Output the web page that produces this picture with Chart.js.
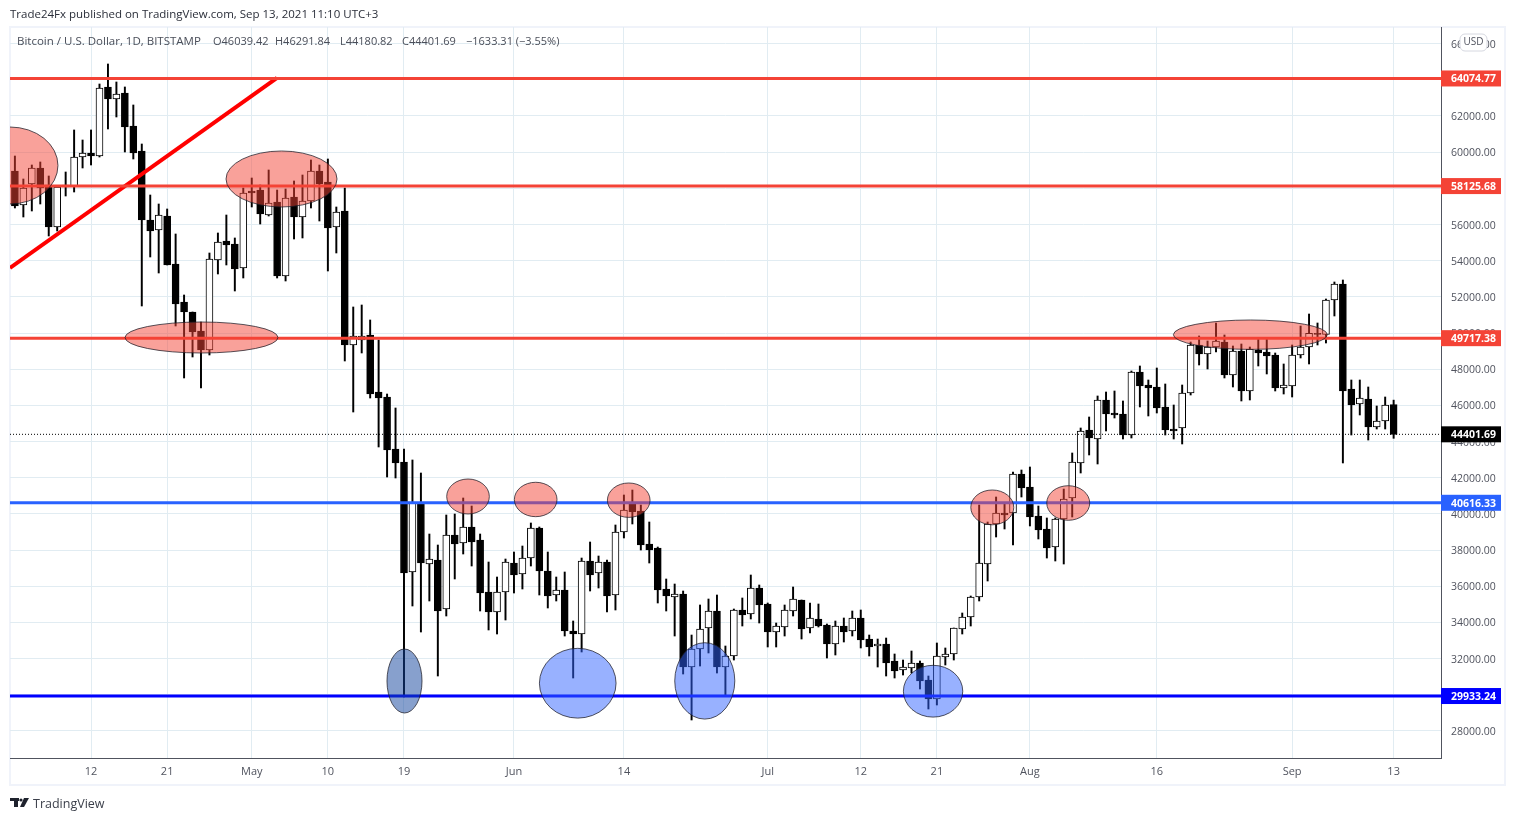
<!DOCTYPE html>
<html>
<head>
<meta charset="utf-8">
<title>BTCUSD</title>
<script src="https://cdn.jsdelivr.net/npm/chart.js@4"></script>
<style>
  html, body { margin: 0; padding: 0; background: #fff; }
  canvas { display: block; }
</style>
</head>
<body>
<canvas id="chart" width="1515" height="821"></canvas>
<script>
// day index 0 = Apr 3 2021
const opens = [58959,57080,58241,59125,58185,55863,58075,58130,59733,59954,59788,63603,62940,63272,61447,60065,56250,55697,56471,53818,51717,51164,50113,49063,54039,55090,54924,53597,57853,57908,56526,57246,53154,57522,56416,57301,58959,58351,55863,56748,49340,49616,49893,46741,46465,43590,42872,36790,40549,37232,37453,34744,38835,38393,39278,38559,35684,34578,35684,37287,36679,37563,39222,36845,35518,35795,33528,33362,37398,36734,37342,35518,39002,40549,40162,38337,38116,35850,35408,35574,31537,32533,33693,34634,31537,32146,34689,34468,35905,35021,33472,33749,34634,35242,33693,34191,33859,32810,33804,33528,34247,33085,32699,32810,31869,31371,31482,31758,30819,29769,32091,32257,33638,34302,35408,37232,39444,40052,40052,42208,41488,39886,39167,38171,39720,40881,42817,44641,44143,46299,45580,45525,44364,47847,47128,47018,45913,44696,44751,46686,49340,48842,49229,49505,47682,49008,46797,49063,48953,48787,46963,47073,48787,49229,49985,49929,51828,52712,46907,46078,46354,44807,45138,46039.42];
const highs = [59788,58517,59291,59457,58683,58075,58904,61227,60673,61227,63769,64875,63880,63604,62609,60452,57632,57135,56859,55477,52104,51164,50611,54426,55532,56526,55256,58019,58572,58185,59015,57908,57964,58407,58738,59567,59291,59623,56969,58019,51441,51551,50722,49616,46630,45857,43590,42983,42263,38890,38282,39941,39996,40881,40438,38890,37342,36513,37508,37895,38227,39499,39278,37895,36513,36790,34081,37563,38448,37674,37453,39389,41047,41322,40494,39554,38171,36403,36126,35739,33306,34966,35297,35518,32699,34744,35353,36624,36071,35076,33970,34966,35960,35242,35076,35021,33915,34081,34247,34634,34689,33306,33085,33140,32257,31924,32422,31869,31040,32865,32589,33693,34523,35463,40494,39554,40936,40604,42318,42429,42595,40438,39776,39776,41377,43369,44751,45359,46521,46741,46797,46244,47902,48179,47405,48068,47184,46023,47128,49505,49838,49561,50556,49893,49284,49395,49229,49671,49671,48898,48290,49340,50390,51053,50556,51883,52823,52933,47405,47405,47018,45968,46465,46291.84];
const lows = [56914,56416,56748,57135,55366,55642,57577,57798,59125,59291,59733,61282,61945,60010,59623,51496,54205,53320,53763,50391,47516,48676,46963,48787,53265,53763,52325,53044,56969,56029,56471,53044,52878,55200,55256,56914,56195,53431,54426,48455,45635,48898,46409,43701,42042,41987,29880,34910,33472,35187,31040,34357,36403,37785,37121,34634,33584,33362,34136,35629,35850,37121,35518,34800,35187,33251,30929,32367,35739,35905,34578,34689,38670,39444,38006,37287,35076,34634,33251,31150,28608,31592,32312,31205,29935,31924,33804,34191,33970,32644,32644,33251,34357,33085,33417,33749,32035,32201,32920,33251,32589,32146,31537,31040,30929,31095,31205,30322,29216,29437,31647,31924,33362,33804,35187,36292,38725,39167,38282,40936,39334,38615,37563,37398,37232,39831,42263,43259,42761,44586,45304,44143,44198,45913,45415,45580,44364,44143,43867,46575,48234,48013,48953,47516,47018,46244,46299,48179,47737,46797,46630,46465,48621,48290,49340,49450,50943,42817,44364,45470,44086,44696,44696,44180.82];
const closes = [57025,58019,59125,58019,55863,58075,58185,59733,59954,59788,63548,62940,63216,61392,59954,56250,55642,56526,53763,51607,51164,50058,49063,54094,55035,54868,53541,57743,57743,56582,57190,53154,57467,56416,57301,58959,58241,55808,56693,49340,49838,49838,46630,46409,43535,42817,36734,40604,37287,37508,34634,38835,38337,39278,38448,35629,34578,35684,37342,36624,37563,39222,36845,35463,35795,33528,33362,37398,36624,37342,35463,39002,40217,40107,38282,38006,35795,35463,35574,31537,32533,33638,34634,31537,32146,34689,34412,35905,34966,33472,33804,34689,35297,33638,34247,33804,32810,33804,33472,34247,33030,32644,32810,31758,31316,31537,31758,30764,29769,32146,32257,33693,34302,35408,37287,39444,40052,39941,42208,41433,39831,39112,38116,39720,40826,42872,44585,44198,46299,45525,45470,44364,47847,47073,46963,45857,44641,44585,46686,49340,48842,49229,49561,47682,49008,46797,49118,48898,48732,46963,47128,48787,49229,49985,49929,51828,52712,46797,46023,46409,44807,45138,46023,44401.69];

const xTickDays = [9, 18, 28, 37, 46, 59, 72, 89, 100, 109, 120, 135, 151, 163];
const xTickLabels = ["12", "21", "May", "10", "19", "Jun", "14", "Jul", "12", "21", "Aug", "16", "Sep", "13"];
const yTickValues = [28000,30000,32000,34000,36000,38000,40000,42000,44000,46000,48000,50000,52000,54000,56000,58000,60000,62000,64000,66000];

const redLevels = [64074.77, 58125.68, 49717.38];
const midBlueLevel = 40616.33;
const deepBlueLevel = 29933.24;
const lastPrice = 44401.69;

const trendDays = [-0.58, 30.99];
const trendPrices = [53597, 64101];

// circled areas, in day / price units
const zoneDays = [-0.58, 22.06, 31.52, 46.06, 53.57, 61.57, 72.57, 66.54, 81.56, 108.55, 115.55, 124.53, 146.06];
const zonePrices = [59263, 49754, 58517, 30764, 40964, 40799, 40760, 30642, 30770, 30200, 40362, 40604, 49909];
const zoneDayRadii = [5.67, 9.04, 6.56, 2.07, 2.52, 2.52, 2.52, 4.53, 3.55, 3.51, 2.54, 2.54, 9.10];
const zonePriceRadii = [2128, 857, 1548, 1769, 967, 951, 951, 1929, 2112, 1432, 962, 956, 813];
const zoneKinds = ["red", "red", "red", "navy", "red", "red", "red", "blue", "blue", "blue", "red", "red", "red"];

const zoneFill = { red: "rgba(244,67,54,0.5)", blue: "rgba(50,100,255,0.5)", navy: "rgba(15,65,155,0.5)" };

const X_MIN = -0.58, X_MAX = 168.6;
const Y_MIN = 26507, Y_MAX = 66920;
const FONT = '"Open Sans", sans-serif';

const days = opens.map((_, i) => i);
const isUp = days.map(i => closes[i] >= opens[i]);

function level(value) {
  return [{ x: X_MIN, y: value }, { x: X_MAX, y: value }];
}

function lineSet(data, color, width, dash) {
  return {
    type: "line", data, borderColor: color, borderWidth: width, borderDash: dash || [],
    pointRadius: 0, order: 1, fill: false
  };
}

const overlayPlugin = {
  id: "overlay",
  beforeDraw(chart) {
    const c = chart.ctx;
    c.save();
    c.fillStyle = "#fff";
    c.fillRect(0, 0, 1515, 821);
    c.strokeStyle = "#f0f3fa";
    c.lineWidth = 2;
    c.strokeRect(10, 27, 1495, 758);
    c.restore();
  },
  afterDatasetsDraw(chart) {
    const c = chart.ctx, x = chart.scales.x, y = chart.scales.y, a = chart.chartArea;
    c.save();
    c.beginPath();
    c.rect(a.left, a.top, a.width, a.height);
    c.clip();
    zoneDays.forEach((d, i) => {
      c.beginPath();
      c.ellipse(
        x.getPixelForValue(d), y.getPixelForValue(zonePrices[i]),
        Math.abs(x.getPixelForValue(d + zoneDayRadii[i]) - x.getPixelForValue(d)),
        Math.abs(y.getPixelForValue(zonePrices[i] + zonePriceRadii[i]) - y.getPixelForValue(zonePrices[i])),
        0, 0, Math.PI * 2
      );
      c.fillStyle = zoneFill[zoneKinds[i]];
      c.fill();
      c.strokeStyle = "rgba(30,30,40,0.75)";
      c.lineWidth = 1;
      c.stroke();
    });
    c.restore();
  },
  afterDraw(chart) {
    const c = chart.ctx, y = chart.scales.y;
    c.save();
    c.textBaseline = "middle";

    // price tags on the axis
    const tag = (value, bg) => {
      const py = y.getPixelForValue(value);
      c.fillStyle = bg;
      c.fillRect(1441, py - 8, 60, 16);
      c.fillStyle = "#fff";
      c.font = "bold 10.5px " + FONT;
      c.textAlign = "left";
      c.fillText(value.toFixed(2), 1451, py + 1);
    };
    redLevels.forEach(v => tag(v, "#f44336"));
    tag(midBlueLevel, "#2962ff");
    tag(deepBlueLevel, "#0000ff");
    tag(lastPrice, "#000");

    // USD button
    c.beginPath();
    c.roundRect(1460, 34, 27, 17, 5);
    c.fillStyle = "#fff";
    c.fill();
    c.strokeStyle = "#d6d8e0";
    c.lineWidth = 1;
    c.stroke();
    c.fillStyle = "#50535e";
    c.font = "10px " + FONT;
    c.textAlign = "center";
    c.fillText("USD", 1473.5, 42.5);

    // header and legend text
    c.textAlign = "left";
    c.fillStyle = "#2a2e39";
    c.font = "11.5px " + FONT;
    c.fillText("Trade24Fx published on TradingView.com, Sep 13, 2021 11:10 UTC+3", 10, 15);
    c.fillStyle = "#4a4e59";
    c.fillText("Bitcoin / U.S. Dollar, 1D, BITSTAMP", 17, 42);
    c.font = "11px " + FONT;
    c.fillText("O46039.42", 213, 42);
    c.fillText("H46291.84", 275, 42);
    c.fillText("L44180.82", 340, 42);
    c.fillText("C44401.69", 402, 42);
    c.fillText("\u22121633.31 (\u22123.55%)", 466, 42);

    // TradingView mark
    c.fillStyle = "#1e222d";
    c.fillRect(10, 798, 9, 3);
    c.fillRect(14, 798, 4, 9);
    c.beginPath();
    c.arc(21, 800, 1.6, 0, Math.PI * 2);
    c.fill();
    c.beginPath();
    c.moveTo(24, 798);
    c.lineTo(29, 798);
    c.lineTo(24, 807);
    c.lineTo(20, 807);
    c.fill();
    c.fillStyle = "#3c404b";
    c.font = "12.5px " + FONT;
    c.fillText("TradingView", 33, 804);
    c.restore();
  }
};

new Chart(document.getElementById("chart").getContext("2d"), {
  type: "bar",
  data: {
    datasets: [
      {
        data: days.map(i => ({ x: i, y: [lows[i], highs[i]] })),
        backgroundColor: "#000", borderWidth: 0, barThickness: 1.3, grouped: false, order: 3
      },
      {
        data: days.map(i => ({ x: i, y: [opens[i], closes[i]] })),
        backgroundColor: days.map(i => isUp[i] ? "#fff" : "#000"),
        borderColor: "#000", borderWidth: 1, borderSkipped: false,
        barThickness: 7, grouped: false, order: 2
      },
      lineSet(level(lastPrice), "#000", 1, [1, 2]),
      lineSet(level(redLevels[0]), "#f44336", 3),
      lineSet(level(redLevels[1]), "#f44336", 3),
      lineSet(level(redLevels[2]), "#f44336", 3),
      lineSet(level(midBlueLevel), "#2962ff", 3),
      lineSet(level(deepBlueLevel), "#0000ff", 3),
      lineSet(trendDays.map((d, i) => ({ x: d, y: trendPrices[i] })), "#ff0000", 4)
    ]
  },
  options: {
    responsive: false,
    animation: false,
    events: [],
    layout: { padding: { left: 10, top: 27, right: 10, bottom: 36 } },
    plugins: { legend: { display: false }, tooltip: { enabled: false } },
    scales: {
      x: {
        type: "linear", min: X_MIN, max: X_MAX, offset: false,
        afterBuildTicks(scale) { scale.ticks = xTickDays.map(v => ({ value: v })); },
        afterFit(scale) { scale.height = 27; },
        grid: { color: "#e1ecf2", drawTicks: false, offset: false },
        border: { color: "#50535e" },
        ticks: {
          autoSkip: false, maxRotation: 0, padding: 7, color: "#50535e",
          font: { family: FONT, size: 11 },
          callback(value) { return xTickLabels[xTickDays.indexOf(value)]; }
        }
      },
      y: {
        position: "right", min: Y_MIN, max: Y_MAX,
        afterBuildTicks(scale) { scale.ticks = yTickValues.map(v => ({ value: v })); },
        afterFit(scale) { scale.width = 64; },
        grid: { color: "#e1ecf2", drawTicks: false },
        border: { color: "#50535e" },
        ticks: {
          autoSkip: false, padding: 10, color: "#50535e", align: "center", crossAlign: "near", labelOffset: 1,
          font: { family: FONT, size: 10.5 },
          callback(value) { return value.toFixed(2); }
        }
      }
    }
  },
  plugins: [overlayPlugin]
});
</script>
</body>
</html>
